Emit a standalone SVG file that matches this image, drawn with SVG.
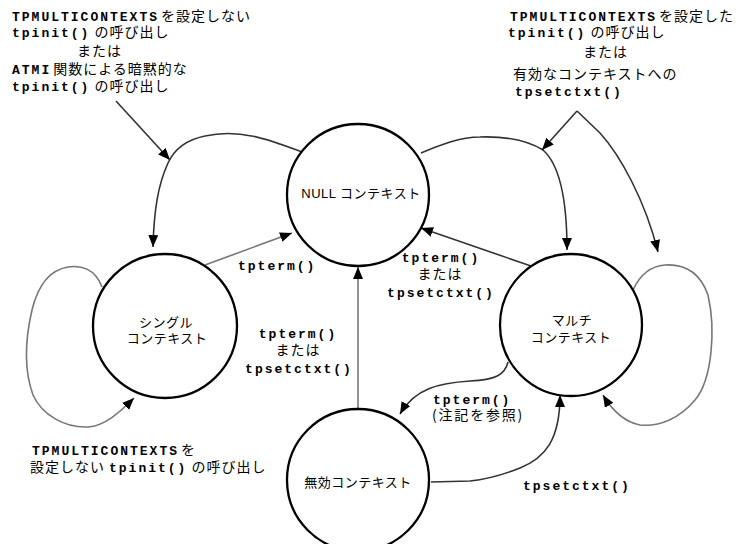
<svg xmlns="http://www.w3.org/2000/svg" width="742" height="544" viewBox="0 0 742 544">
<style>
.node{fill:#fff;stroke:#000;stroke-width:2.3}
.c{fill:none;stroke:#333;stroke-width:1.6}
.g{fill:none;stroke:#777;stroke-width:1.6}
text{fill:#000}
.m{font-family:"Liberation Mono",monospace;font-weight:bold;font-size:13px;letter-spacing:2px}
.j{font-family:"Noto Sans CJK JP",sans-serif;font-size:14px;letter-spacing:1px}
.n{font-family:"Liberation Sans","Noto Sans CJK JP",sans-serif;font-size:13px;letter-spacing:0.5px}
</style>
<defs>
<marker id="ah" viewBox="0 0 12 10" refX="12" refY="5" markerWidth="12" markerHeight="10" markerUnits="userSpaceOnUse" orient="auto">
<path d="M0,0 L12,5 L0,10 z" fill="#000"/>
</marker>
</defs>
<g id="connectors">
<path class="c" d="M116,101 L170,160" marker-end="url(#ah)"/>
<path class="c" d="M302,152 C270,140 240,128 205,136 C185,140 174,150 168,163 C158,185 154,210 153,247" marker-end="url(#ah)"/>
<path class="g" d="M205,265 L292,233" marker-end="url(#ah)"/>
<path class="g" d="M102,287 C95,268 80,265 68,267 C50,270 38,285 32,310 C25,340 24,370 33,395 C42,415 65,428 88,427 C105,426 120,412 134,398" marker-end="url(#ah)"/>
<path class="g" d="M358,408 L358,267" marker-end="url(#ah)"/>
<path class="c" d="M531,266 L421,228" marker-end="url(#ah)"/>
<path class="c" d="M421,153 C440,145 460,137 480,137 C510,136 530,142 543,150 C560,165 567,200 567,250" marker-end="url(#ah)"/>
<path class="c" d="M577,111 L542,150" marker-end="url(#ah)"/>
<path class="c" d="M577,111 L600,133 C620,155 645,200 658,252" marker-end="url(#ah)"/>
<path class="g" d="M633,290 C640,275 650,266 665,265 C685,264 700,272 708,295 C716,330 712,380 695,400 C680,418 660,427 640,425 C625,422 612,410 603,395" marker-end="url(#ah)"/>
<path class="c" d="M508,362 C505,375 495,380 470,381 C440,383 415,388 400,414" marker-end="url(#ah)"/>
<path class="c" d="M431,482 L470,481 C490,479 505,474 520,468 C545,458 560,440 560,395" marker-end="url(#ah)"/>
</g>
<g id="null">
<circle class="node" cx="358" cy="195" r="71"/>
<text class="n" x="361" y="198" text-anchor="middle">NULL コンテキスト</text>
</g>
<g id="single">
<circle class="node" cx="165" cy="326" r="72"/>
<text class="n" x="166" y="327" text-anchor="middle">シングル</text>
<text class="n" x="167" y="343" text-anchor="middle">コンテキスト</text>
</g>
<g id="multi">
<circle class="node" cx="571" cy="325" r="71"/>
<text class="n" x="572" y="325" text-anchor="middle">マルチ</text>
<text class="n" x="571" y="342" text-anchor="middle">コンテキスト</text>
</g>
<g id="invalid">
<circle class="node" cx="358" cy="480" r="71"/>
<text class="n" x="358" y="487" text-anchor="middle">無効コンテキスト</text>
</g>
<g id="labels">
<text x="12" y="21"><tspan class="m">TPMULTICONTEXTS</tspan><tspan class="j" dx="2">を設定しない</tspan></text>
<text x="12" y="37"><tspan class="m">tpinit()</tspan><tspan class="j" dx="4">の呼び出し</tspan></text>
<text class="j" x="77" y="56">または</text>
<text x="12" y="74"><tspan class="m">ATMI</tspan><tspan class="j" dx="2">関数による暗黙的な</tspan></text>
<text x="12" y="91"><tspan class="m">tpinit()</tspan><tspan class="j" dx="4">の呼び出し</tspan></text>

<text x="510" y="21"><tspan class="m">TPMULTICONTEXTS</tspan><tspan class="j" dx="2">を設定した</tspan></text>
<text x="508" y="37"><tspan class="m">tpinit()</tspan><tspan class="j" dx="4">の呼び出し</tspan></text>
<text class="j" x="583" y="57">または</text>
<text class="j" x="513" y="79">有効なコンテキストへの</text>
<text class="m" x="515" y="96">tpsetctxt()</text>

<text class="m" x="238" y="270">tpterm()</text>

<text class="m" x="298" y="338" text-anchor="middle">tpterm()</text>
<text class="j" x="298" y="355" text-anchor="middle">または</text>
<text class="m" x="299" y="373" text-anchor="middle">tpsetctxt()</text>

<text class="m" x="441" y="262" text-anchor="middle">tpterm()</text>
<text class="j" x="440" y="279" text-anchor="middle">または</text>
<text class="m" x="441" y="297" text-anchor="middle">tpsetctxt()</text>

<text x="32" y="455"><tspan class="m">TPMULTICONTEXTS</tspan><tspan class="j" dx="2">を</tspan></text>
<text x="30" y="472"><tspan class="j">設定しない</tspan><tspan class="m" dx="4">tpinit()</tspan><tspan class="j" dx="4">の呼び出し</tspan></text>

<text class="m" x="433" y="404">tpterm()</text>
<text class="j" x="432" y="420" style="letter-spacing:1.8px">(注記を参照)</text>

<text class="m" x="523" y="490">tpsetctxt()</text>
</g>
</svg>
